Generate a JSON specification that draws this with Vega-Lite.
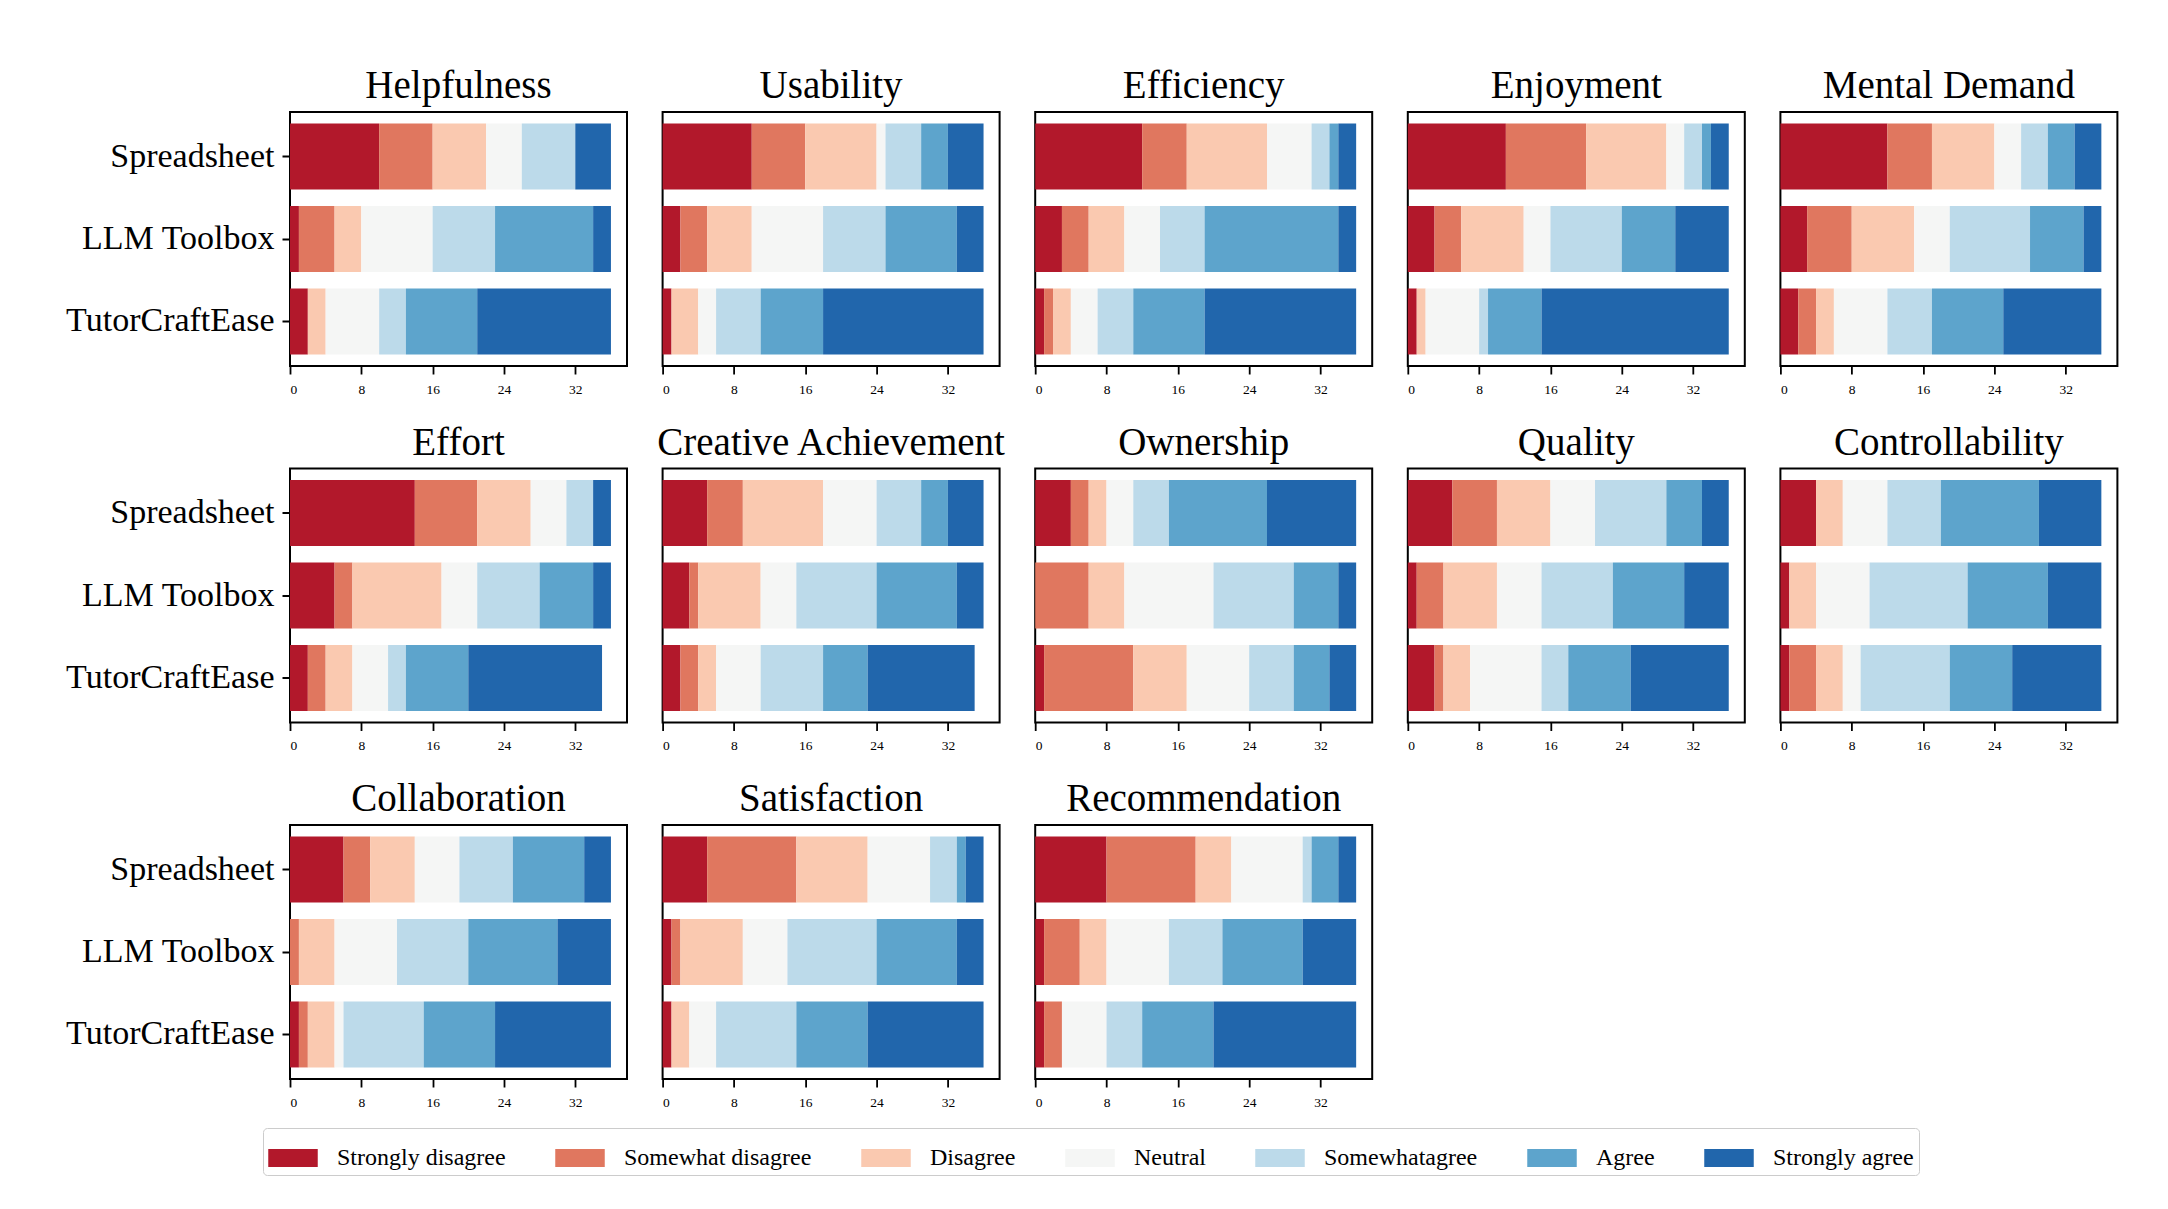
{
  "$schema": "https://vega.github.io/schema/vega-lite/v6.json",
  "autosize": {"type": "none"},
  "padding": {"left": 290, "top": 112, "right": 1878, "bottom": 1097},
  "background": "white",
  "datasets": {
    "levels": [
      {"k": "sd", "r": "Strongly disagree", "l": 1},
      {"k": "swd", "r": "Somewhat disagree", "l": 2},
      {"k": "d", "r": "Disagree", "l": 3},
      {"k": "n", "r": "Neutral", "l": 4},
      {"k": "swa", "r": "Somewhatagree", "l": 5},
      {"k": "a", "r": "Agree", "l": 6},
      {"k": "sa", "r": "Strongly agree", "l": 7}
    ],
    "survey": [
      {"m": "Helpfulness", "t": "Spreadsheet", "sd": 10, "swd": 6, "d": 6, "n": 4, "swa": 6, "a": 0, "sa": 4},
      {"m": "Helpfulness", "t": "LLM Toolbox", "sd": 1, "swd": 4, "d": 3, "n": 8, "swa": 7, "a": 11, "sa": 2},
      {"m": "Helpfulness", "t": "TutorCraftEase", "sd": 2, "swd": 0, "d": 2, "n": 6, "swa": 3, "a": 8, "sa": 15},
      {"m": "Usability", "t": "Spreadsheet", "sd": 10, "swd": 6, "d": 8, "n": 1, "swa": 4, "a": 3, "sa": 4},
      {"m": "Usability", "t": "LLM Toolbox", "sd": 2, "swd": 3, "d": 5, "n": 8, "swa": 7, "a": 8, "sa": 3},
      {"m": "Usability", "t": "TutorCraftEase", "sd": 1, "swd": 0, "d": 3, "n": 2, "swa": 5, "a": 7, "sa": 18},
      {"m": "Efficiency", "t": "Spreadsheet", "sd": 12, "swd": 5, "d": 9, "n": 5, "swa": 2, "a": 1, "sa": 2},
      {"m": "Efficiency", "t": "LLM Toolbox", "sd": 3, "swd": 3, "d": 4, "n": 4, "swa": 5, "a": 15, "sa": 2},
      {"m": "Efficiency", "t": "TutorCraftEase", "sd": 1, "swd": 1, "d": 2, "n": 3, "swa": 4, "a": 8, "sa": 17},
      {"m": "Enjoyment", "t": "Spreadsheet", "sd": 11, "swd": 9, "d": 9, "n": 2, "swa": 2, "a": 1, "sa": 2},
      {"m": "Enjoyment", "t": "LLM Toolbox", "sd": 3, "swd": 3, "d": 7, "n": 3, "swa": 8, "a": 6, "sa": 6},
      {"m": "Enjoyment", "t": "TutorCraftEase", "sd": 1, "swd": 0, "d": 1, "n": 6, "swa": 1, "a": 6, "sa": 21},
      {"m": "Mental Demand", "t": "Spreadsheet", "sd": 12, "swd": 5, "d": 7, "n": 3, "swa": 3, "a": 3, "sa": 3},
      {"m": "Mental Demand", "t": "LLM Toolbox", "sd": 3, "swd": 5, "d": 7, "n": 4, "swa": 9, "a": 6, "sa": 2},
      {"m": "Mental Demand", "t": "TutorCraftEase", "sd": 2, "swd": 2, "d": 2, "n": 6, "swa": 5, "a": 8, "sa": 11},
      {"m": "Effort", "t": "Spreadsheet", "sd": 14, "swd": 7, "d": 6, "n": 4, "swa": 3, "a": 0, "sa": 2},
      {"m": "Effort", "t": "LLM Toolbox", "sd": 5, "swd": 2, "d": 10, "n": 4, "swa": 7, "a": 6, "sa": 2},
      {"m": "Effort", "t": "TutorCraftEase", "sd": 2, "swd": 2, "d": 3, "n": 4, "swa": 2, "a": 7, "sa": 15},
      {"m": "Creative Achievement", "t": "Spreadsheet", "sd": 5, "swd": 4, "d": 9, "n": 6, "swa": 5, "a": 3, "sa": 4},
      {"m": "Creative Achievement", "t": "LLM Toolbox", "sd": 3, "swd": 1, "d": 7, "n": 4, "swa": 9, "a": 9, "sa": 3},
      {"m": "Creative Achievement", "t": "TutorCraftEase", "sd": 2, "swd": 2, "d": 2, "n": 5, "swa": 7, "a": 5, "sa": 12},
      {"m": "Ownership", "t": "Spreadsheet", "sd": 4, "swd": 2, "d": 2, "n": 3, "swa": 4, "a": 11, "sa": 10},
      {"m": "Ownership", "t": "LLM Toolbox", "sd": 0, "swd": 6, "d": 4, "n": 10, "swa": 9, "a": 5, "sa": 2},
      {"m": "Ownership", "t": "TutorCraftEase", "sd": 1, "swd": 10, "d": 6, "n": 7, "swa": 5, "a": 4, "sa": 3},
      {"m": "Quality", "t": "Spreadsheet", "sd": 5, "swd": 5, "d": 6, "n": 5, "swa": 8, "a": 4, "sa": 3},
      {"m": "Quality", "t": "LLM Toolbox", "sd": 1, "swd": 3, "d": 6, "n": 5, "swa": 8, "a": 8, "sa": 5},
      {"m": "Quality", "t": "TutorCraftEase", "sd": 3, "swd": 1, "d": 3, "n": 8, "swa": 3, "a": 7, "sa": 11},
      {"m": "Controllability", "t": "Spreadsheet", "sd": 4, "swd": 0, "d": 3, "n": 5, "swa": 6, "a": 11, "sa": 7},
      {"m": "Controllability", "t": "LLM Toolbox", "sd": 1, "swd": 0, "d": 3, "n": 6, "swa": 11, "a": 9, "sa": 6},
      {"m": "Controllability", "t": "TutorCraftEase", "sd": 1, "swd": 3, "d": 3, "n": 2, "swa": 10, "a": 7, "sa": 10},
      {"m": "Collaboration", "t": "Spreadsheet", "sd": 6, "swd": 3, "d": 5, "n": 5, "swa": 6, "a": 8, "sa": 3},
      {"m": "Collaboration", "t": "LLM Toolbox", "sd": 0, "swd": 1, "d": 4, "n": 7, "swa": 8, "a": 10, "sa": 6},
      {"m": "Collaboration", "t": "TutorCraftEase", "sd": 1, "swd": 1, "d": 3, "n": 1, "swa": 9, "a": 8, "sa": 13},
      {"m": "Satisfaction", "t": "Spreadsheet", "sd": 5, "swd": 10, "d": 8, "n": 7, "swa": 3, "a": 1, "sa": 2},
      {"m": "Satisfaction", "t": "LLM Toolbox", "sd": 1, "swd": 1, "d": 7, "n": 5, "swa": 10, "a": 9, "sa": 3},
      {"m": "Satisfaction", "t": "TutorCraftEase", "sd": 1, "swd": 0, "d": 2, "n": 3, "swa": 9, "a": 8, "sa": 13},
      {"m": "Recommendation", "t": "Spreadsheet", "sd": 8, "swd": 10, "d": 4, "n": 8, "swa": 1, "a": 3, "sa": 2},
      {"m": "Recommendation", "t": "LLM Toolbox", "sd": 1, "swd": 4, "d": 3, "n": 7, "swa": 6, "a": 9, "sa": 6},
      {"m": "Recommendation", "t": "TutorCraftEase", "sd": 1, "swd": 2, "d": 0, "n": 5, "swa": 4, "a": 8, "sa": 16}
    ]
  },
  "data": {"name": "survey"},
  "transform": [
    {"fold": ["sd", "swd", "d", "n", "swa", "a", "sa"], "as": ["k", "v"]},
    {"lookup": "k", "from": {"data": {"name": "levels"}, "key": "k", "fields": ["r", "l"]}}
  ],
  "columns": 5,
  "spacing": {"row": 102.5, "column": 35.6},
  "bounds": "flush",
  "concat": [
    {"title": "Helpfulness", "width": 337, "height": 254, "transform": [{"filter": {"field": "m", "equal": "Helpfulness"}}], "mark": "bar",
     "encoding": {"y": {"field": "t", "type": "nominal", "sort": ["Spreadsheet", "LLM Toolbox", "TutorCraftEase"], "scale": {"paddingInner": 0.2, "paddingOuter": 0.14}, "title": null},
      "x": {"field": "v", "type": "quantitative", "scale": {"domain": [0, 37.8], "nice": false}, "axis": {"values": [0, 8, 16, 24, 32]}, "title": null},
      "color": {"field": "r", "type": "nominal", "title": null, "scale": {"domain": ["Strongly disagree", "Somewhat disagree", "Disagree", "Neutral", "Somewhatagree", "Agree", "Strongly agree"], "range": ["#b2182b", "#e0775f", "#fac9b0", "#f5f6f5", "#bcdaea", "#5da4cc", "#2166ac"]}},
      "order": {"field": "l", "type": "quantitative"}}},
    {"title": "Usability", "width": 337, "height": 254, "transform": [{"filter": {"field": "m", "equal": "Usability"}}], "mark": "bar",
     "encoding": {"y": {"field": "t", "type": "nominal", "sort": ["Spreadsheet", "LLM Toolbox", "TutorCraftEase"], "scale": {"paddingInner": 0.2, "paddingOuter": 0.14}, "axis": null},
      "x": {"field": "v", "type": "quantitative", "scale": {"domain": [0, 37.8], "nice": false}, "axis": {"values": [0, 8, 16, 24, 32]}, "title": null},
      "color": {"field": "r", "type": "nominal", "title": null},
      "order": {"field": "l", "type": "quantitative"}}},
    {"title": "Efficiency", "width": 337, "height": 254, "transform": [{"filter": {"field": "m", "equal": "Efficiency"}}], "mark": "bar",
     "encoding": {"y": {"field": "t", "type": "nominal", "sort": ["Spreadsheet", "LLM Toolbox", "TutorCraftEase"], "scale": {"paddingInner": 0.2, "paddingOuter": 0.14}, "axis": null},
      "x": {"field": "v", "type": "quantitative", "scale": {"domain": [0, 37.8], "nice": false}, "axis": {"values": [0, 8, 16, 24, 32]}, "title": null},
      "color": {"field": "r", "type": "nominal", "title": null},
      "order": {"field": "l", "type": "quantitative"}}},
    {"title": "Enjoyment", "width": 337, "height": 254, "transform": [{"filter": {"field": "m", "equal": "Enjoyment"}}], "mark": "bar",
     "encoding": {"y": {"field": "t", "type": "nominal", "sort": ["Spreadsheet", "LLM Toolbox", "TutorCraftEase"], "scale": {"paddingInner": 0.2, "paddingOuter": 0.14}, "axis": null},
      "x": {"field": "v", "type": "quantitative", "scale": {"domain": [0, 37.8], "nice": false}, "axis": {"values": [0, 8, 16, 24, 32]}, "title": null},
      "color": {"field": "r", "type": "nominal", "title": null},
      "order": {"field": "l", "type": "quantitative"}}},
    {"title": "Mental Demand", "width": 337, "height": 254, "transform": [{"filter": {"field": "m", "equal": "Mental Demand"}}], "mark": "bar",
     "encoding": {"y": {"field": "t", "type": "nominal", "sort": ["Spreadsheet", "LLM Toolbox", "TutorCraftEase"], "scale": {"paddingInner": 0.2, "paddingOuter": 0.14}, "axis": null},
      "x": {"field": "v", "type": "quantitative", "scale": {"domain": [0, 37.8], "nice": false}, "axis": {"values": [0, 8, 16, 24, 32]}, "title": null},
      "color": {"field": "r", "type": "nominal", "title": null},
      "order": {"field": "l", "type": "quantitative"}}},
    {"title": "Effort", "width": 337, "height": 254, "transform": [{"filter": {"field": "m", "equal": "Effort"}}], "mark": "bar",
     "encoding": {"y": {"field": "t", "type": "nominal", "sort": ["Spreadsheet", "LLM Toolbox", "TutorCraftEase"], "scale": {"paddingInner": 0.2, "paddingOuter": 0.14}, "title": null},
      "x": {"field": "v", "type": "quantitative", "scale": {"domain": [0, 37.8], "nice": false}, "axis": {"values": [0, 8, 16, 24, 32]}, "title": null},
      "color": {"field": "r", "type": "nominal", "title": null},
      "order": {"field": "l", "type": "quantitative"}}},
    {"title": "Creative Achievement", "width": 337, "height": 254, "transform": [{"filter": {"field": "m", "equal": "Creative Achievement"}}], "mark": "bar",
     "encoding": {"y": {"field": "t", "type": "nominal", "sort": ["Spreadsheet", "LLM Toolbox", "TutorCraftEase"], "scale": {"paddingInner": 0.2, "paddingOuter": 0.14}, "axis": null},
      "x": {"field": "v", "type": "quantitative", "scale": {"domain": [0, 37.8], "nice": false}, "axis": {"values": [0, 8, 16, 24, 32]}, "title": null},
      "color": {"field": "r", "type": "nominal", "title": null},
      "order": {"field": "l", "type": "quantitative"}}},
    {"title": "Ownership", "width": 337, "height": 254, "transform": [{"filter": {"field": "m", "equal": "Ownership"}}], "mark": "bar",
     "encoding": {"y": {"field": "t", "type": "nominal", "sort": ["Spreadsheet", "LLM Toolbox", "TutorCraftEase"], "scale": {"paddingInner": 0.2, "paddingOuter": 0.14}, "axis": null},
      "x": {"field": "v", "type": "quantitative", "scale": {"domain": [0, 37.8], "nice": false}, "axis": {"values": [0, 8, 16, 24, 32]}, "title": null},
      "color": {"field": "r", "type": "nominal", "title": null},
      "order": {"field": "l", "type": "quantitative"}}},
    {"title": "Quality", "width": 337, "height": 254, "transform": [{"filter": {"field": "m", "equal": "Quality"}}], "mark": "bar",
     "encoding": {"y": {"field": "t", "type": "nominal", "sort": ["Spreadsheet", "LLM Toolbox", "TutorCraftEase"], "scale": {"paddingInner": 0.2, "paddingOuter": 0.14}, "axis": null},
      "x": {"field": "v", "type": "quantitative", "scale": {"domain": [0, 37.8], "nice": false}, "axis": {"values": [0, 8, 16, 24, 32]}, "title": null},
      "color": {"field": "r", "type": "nominal", "title": null},
      "order": {"field": "l", "type": "quantitative"}}},
    {"title": "Controllability", "width": 337, "height": 254, "transform": [{"filter": {"field": "m", "equal": "Controllability"}}], "mark": "bar",
     "encoding": {"y": {"field": "t", "type": "nominal", "sort": ["Spreadsheet", "LLM Toolbox", "TutorCraftEase"], "scale": {"paddingInner": 0.2, "paddingOuter": 0.14}, "axis": null},
      "x": {"field": "v", "type": "quantitative", "scale": {"domain": [0, 37.8], "nice": false}, "axis": {"values": [0, 8, 16, 24, 32]}, "title": null},
      "color": {"field": "r", "type": "nominal", "title": null},
      "order": {"field": "l", "type": "quantitative"}}},
    {"title": "Collaboration", "width": 337, "height": 254, "transform": [{"filter": {"field": "m", "equal": "Collaboration"}}], "mark": "bar",
     "encoding": {"y": {"field": "t", "type": "nominal", "sort": ["Spreadsheet", "LLM Toolbox", "TutorCraftEase"], "scale": {"paddingInner": 0.2, "paddingOuter": 0.14}, "title": null},
      "x": {"field": "v", "type": "quantitative", "scale": {"domain": [0, 37.8], "nice": false}, "axis": {"values": [0, 8, 16, 24, 32]}, "title": null},
      "color": {"field": "r", "type": "nominal", "title": null},
      "order": {"field": "l", "type": "quantitative"}}},
    {"title": "Satisfaction", "width": 337, "height": 254, "transform": [{"filter": {"field": "m", "equal": "Satisfaction"}}], "mark": "bar",
     "encoding": {"y": {"field": "t", "type": "nominal", "sort": ["Spreadsheet", "LLM Toolbox", "TutorCraftEase"], "scale": {"paddingInner": 0.2, "paddingOuter": 0.14}, "axis": null},
      "x": {"field": "v", "type": "quantitative", "scale": {"domain": [0, 37.8], "nice": false}, "axis": {"values": [0, 8, 16, 24, 32]}, "title": null},
      "color": {"field": "r", "type": "nominal", "title": null},
      "order": {"field": "l", "type": "quantitative"}}},
    {"title": "Recommendation", "width": 337, "height": 254, "transform": [{"filter": {"field": "m", "equal": "Recommendation"}}], "mark": "bar",
     "encoding": {"y": {"field": "t", "type": "nominal", "sort": ["Spreadsheet", "LLM Toolbox", "TutorCraftEase"], "scale": {"paddingInner": 0.2, "paddingOuter": 0.14}, "axis": null},
      "x": {"field": "v", "type": "quantitative", "scale": {"domain": [0, 37.8], "nice": false}, "axis": {"values": [0, 8, 16, 24, 32]}, "title": null},
      "color": {"field": "r", "type": "nominal", "title": null},
      "order": {"field": "l", "type": "quantitative"}}}
  ],
  "config": {
    "font": "Liberation Serif",
    "view": {"stroke": "black", "strokeWidth": 2},
    "title": {"font": "Liberation Serif", "fontSize": 39, "fontWeight": "normal", "color": "black", "anchor": "middle", "baseline": "alphabetic", "offset": 6},
    "axis": {"grid": false, "domain": false, "tickColor": "black", "labelColor": "black", "labelFont": "Liberation Serif"},
    "axisX": {"labelFontSize": 13.5, "tickSize": 8, "tickWidth": 1.8, "labelPadding": 8, "labelAngle": 0},
    "axisY": {"labelFontSize": 34, "tickSize": 8, "tickWidth": 2, "labelPadding": 8, "labelLimit": 0},
    "legend": {"orient": "none", "legendX": -27, "legendY": 1016, "direction": "horizontal", "columns": 7, "columnPadding": 49,
      "symbolType": "M-1,-0.364H1V0.364H-1Z", "symbolSize": 2450, "symbolStrokeWidth": 0, "symbolOpacity": 1,
      "labelFont": "Liberation Serif", "labelFontSize": 24, "labelColor": "black", "labelOffset": 19, "labelLimit": 0,
      "padding": 5, "strokeColor": "#cccccc", "fillColor": "white", "cornerRadius": 4}
  }
}
